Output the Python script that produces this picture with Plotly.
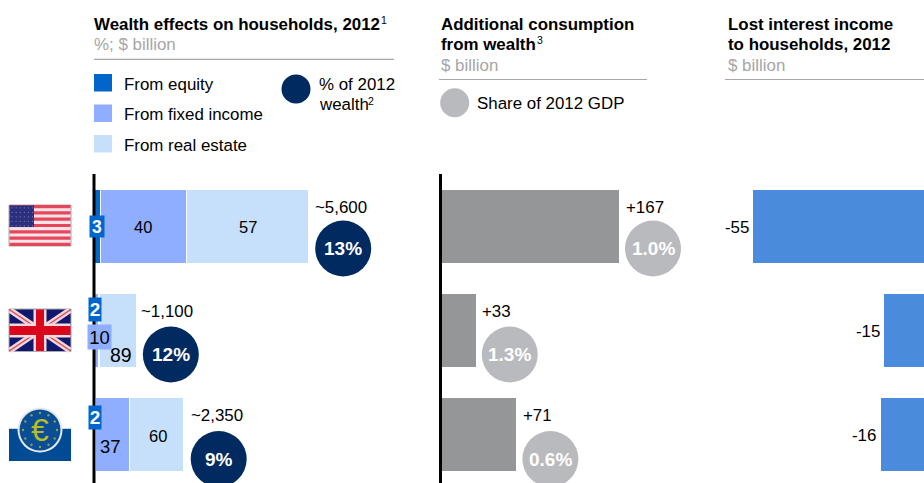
import math
import plotly.graph_objects as go

W, H = 924, 483

# ---- data ----
countries = ["United States", "United Kingdom", "Eurozone"]
equity_pct = [3, 2, 2]
fixed_pct = [40, 10, 37]
estate_pct = [57, 89, 60]
wealth_total = [5600, 1100, 2350]
wealth_labels = ["~5,600", "~1,100", "~2,350"]
wealth_share = ["13%", "12%", "9%"]
consumption = [167, 33, 71]
consumption_labels = ["+167", "+33", "+71"]
gdp_share = ["1.0%", "1.3%", "0.6%"]
lost_interest = [-55, -15, -16]
lost_labels = ["-55", "-15", "-16"]

# ---- palette ----
C_EQUITY = "#0066CC"
C_FIXED = "#8FAEFF"
C_ESTATE = "#C6DFFB"
C_NAVY = "#002A60"
C_GREY_BAR = "#959698"
C_GREY_DOT = "#B9BABD"
C_BLUE = "#4A8BDC"
C_SUB = "#A6A6A6"
C_RULE = "#A8A8A8"
FONT = "Liberation Sans, Arial, sans-serif"
FS = 16.9

# ---- panel geometry, in pixels of the page ----
PX_PER_ROW = 104.0
ROW0 = 226.5
BAR_H = 73.5
GUTTER = 6.0  # room left of each zero line so the thick line is not clipped
P1_ZERO, P1_RIGHT = 94.0, 400.0
P1_K = 214.5 / 5600
P2_ZERO, P2_RIGHT = 440.5, 720.0
P2_K = 178.5 / 167
P3_LEFT, P3_ZERO = 725.0, 933.0
P3_K = 3.275

rows = list(range(len(countries)))


def paper_x(px):
    return px / W


def paper_y(py):
    return 1 - py / H


fig = go.Figure()

# stacked wealth bars: each share applies to that country's total
eq_val = [t * p / 100 for t, p in zip(wealth_total, equity_pct)]
fx_val = [t * p / 100 for t, p in zip(wealth_total, fixed_pct)]
re_val = [t * p / 100 for t, p in zip(wealth_total, estate_pct)]
for name, vals, col in [("From equity", eq_val, C_EQUITY),
                        ("From fixed income", fx_val, C_FIXED),
                        ("From real estate", re_val, C_ESTATE)]:
    fig.add_trace(go.Bar(y=rows, x=vals, name=name, orientation="h", xaxis="x", yaxis="y",
                         marker=dict(color=col, line=dict(color="white", width=1.2)),
                         width=BAR_H / PX_PER_ROW, showlegend=False, hoverinfo="skip"))

fig.add_trace(go.Bar(y=rows, x=consumption, orientation="h", xaxis="x2", yaxis="y",
                     marker=dict(color=C_GREY_BAR, line=dict(width=0)),
                     width=BAR_H / PX_PER_ROW, showlegend=False, hoverinfo="skip"))
fig.add_trace(go.Bar(y=rows, x=lost_interest, orientation="h", xaxis="x3", yaxis="y",
                     marker=dict(color=C_BLUE, line=dict(width=0)),
                     width=BAR_H / PX_PER_ROW, showlegend=False, hoverinfo="skip"))

# share bubbles sit just past the end of each bar
BUBBLE_DY = [22, 24, 24.5]
P1_BUBBLE_X = [t + 34.7 / P1_K for t in wealth_total]
P2_BUBBLE_X = [v + 34.0 / P2_K for v in consumption]
BUBBLE_Y = [r + d / PX_PER_ROW for r, d in zip(rows, BUBBLE_DY)]
fig.add_trace(go.Scatter(x=P1_BUBBLE_X, y=BUBBLE_Y, mode="markers", xaxis="x", yaxis="y",
                         cliponaxis=False, marker=dict(size=56, color=C_NAVY, line=dict(width=0)),
                         showlegend=False, hoverinfo="skip"))
fig.add_trace(go.Scatter(x=P2_BUBBLE_X, y=BUBBLE_Y, mode="markers", xaxis="x2", yaxis="y",
                         cliponaxis=False, marker=dict(size=56, color=C_GREY_DOT, line=dict(width=0)),
                         showlegend=False, hoverinfo="skip"))

ann = []
shapes = []


def note(px, py, text, size=FS, color="black", anchor="left"):
    ann.append(dict(xref="paper", yref="paper", x=paper_x(px), y=paper_y(py), text=text,
                    showarrow=False, xanchor=anchor, yanchor="middle", borderpad=0,
                    font=dict(family=FONT, size=size, color=color), align="left"))


def data_note(axis, x, row, text, dx=0, dy=0, size=FS, color="black", anchor="center",
              bg=None, box=None):
    a = dict(xref=axis, yref="y", x=x, y=row, text=text, showarrow=False,
             xanchor=anchor, yanchor="middle", xshift=dx, yshift=-dy, borderpad=0,
             font=dict(family=FONT, size=size, color=color), align="center", valign="middle")
    if bg:
        a["bgcolor"] = bg
    if box:
        a["width"], a["height"] = box
    ann.append(a)


def rect(x0, y0, x1, y1, fill, line=None, lw=0):
    shapes.append(dict(type="rect", xref="paper", yref="paper",
                       x0=paper_x(x0), x1=paper_x(x1), y0=paper_y(y0), y1=paper_y(y1),
                       fillcolor=fill, line=dict(color=line or fill, width=lw), layer="above"))


def circle(cx, cy, r, fill, line=None, lw=0):
    shapes.append(dict(type="circle", xref="paper", yref="paper",
                       x0=paper_x(cx - r), x1=paper_x(cx + r),
                       y0=paper_y(cy + r), y1=paper_y(cy - r),
                       fillcolor=fill, line=dict(color=line or fill, width=lw), layer="above"))


def seg(x0, y0, x1, y1, color, lw):
    shapes.append(dict(type="line", xref="paper", yref="paper",
                       x0=paper_x(x0), x1=paper_x(x1), y0=paper_y(y0), y1=paper_y(y1),
                       line=dict(color=color, width=lw), layer="above"))


# ---- panel headers ----
note(92.8, 24.4, "<b>Wealth effects on households, 2012</b>")
note(379.5, 20, "1", size=10.5)
note(92.8, 44, "%; $ billion", color=C_SUB)
seg(94, 59.3, 394, 59.3, C_RULE, 1.2)
note(440, 24.4, "<b>Additional consumption</b>")
note(440, 44.4, "<b>from wealth</b>")
note(535.5, 40, "3", size=10.5)
note(440, 65, "$ billion", color=C_SUB)
seg(439, 79.5, 647, 79.5, C_RULE, 1.2)
note(726.8, 24.4, "<b>Lost interest income</b>")
note(726.8, 44.4, "<b>to households, 2012</b>")
note(726.8, 65, "$ billion", color=C_SUB)
seg(725, 79.5, 924, 79.5, C_RULE, 1.2)

# ---- legends ----
rect(94, 74, 112, 91.5, C_EQUITY)
rect(94, 104.5, 112, 122, C_FIXED)
rect(94, 135, 112, 152.5, C_ESTATE)
note(122.8, 84.5, "From equity")
note(122.8, 114.8, "From fixed income")
note(122.8, 145.4, "From real estate")
circle(296, 89, 14.5, C_NAVY)
note(317.8, 84.5, "% of 2012")
note(317.8, 104.5, "wealth")
note(367, 101, "2", size=10.5)
circle(454.7, 102.7, 14.5, C_GREY_DOT)
note(476, 103, "Share of 2012 GDP")

# ---- value labels, nudged where a segment is too thin to hold its text ----
FIXED_NUDGE = [(0, 0), (2.5, 6), (-1.7, 11.5)]
FIXED_SIZE = [16.5, 18.5, 18.5]
ESTATE_NUDGE = [(0.8, 0.5), (3, 24), (1.7, 1.5)]
ESTATE_SIZE = [16.5, 19.5, 16.5]
EQUITY_NUDGE = [(0, 0), (1, -21.5), (0, -17)]
EQUITY_BOX = [(14, 21), (12, 23), (12, 23)]
EQUITY_SIZE = [17.5, 19, 19]
TOTAL_DX = [5.5, 3.5, 6]
GAIN_DX = [5.5, 5, 5.5]
LOSS_DX = [-3, -3, -3.5]
for i in rows:
    eq_mid = eq_val[i] / 2
    fx_mid = eq_val[i] + fx_val[i] / 2
    re_mid = eq_val[i] + fx_val[i] + re_val[i] / 2
    data_note("x", fx_mid, i, str(fixed_pct[i]), *FIXED_NUDGE[i], size=FIXED_SIZE[i],
              bg=C_FIXED if i == 1 else None, box=(23, 24) if i == 1 else None)
    data_note("x", re_mid, i, str(estate_pct[i]), *ESTATE_NUDGE[i], size=ESTATE_SIZE[i])
    data_note("x", eq_mid, i, f"<b>{equity_pct[i]}</b>", *EQUITY_NUDGE[i], size=EQUITY_SIZE[i],
              color="white", bg=C_EQUITY, box=EQUITY_BOX[i])
    data_note("x", wealth_total[i], i, wealth_labels[i], dx=TOTAL_DX[i], dy=-19.5, anchor="left")
    data_note("x2", consumption[i], i, consumption_labels[i], dx=GAIN_DX[i], dy=-19.5, anchor="left")
    data_note("x3", lost_interest[i], i, lost_labels[i], dx=LOSS_DX[i], dy=1, anchor="right")
    data_note("x", P1_BUBBLE_X[i], BUBBLE_Y[i], f"<b>{wealth_share[i]}</b>", size=19, color="white")
    data_note("x2", P2_BUBBLE_X[i], BUBBLE_Y[i], f"<b>{gdp_share[i]}</b>", size=19, color="white")

# ---- zero lines ----
for axis in ("x", "x2"):
    shapes.append(dict(type="line", xref=axis, yref="paper", x0=0, x1=0,
                       y0=0, y1=paper_y(174), line=dict(color="black", width=3), layer="above"))

# ---- United States flag ----
US_X0, US_X1, US_Y0, US_Y1 = 9, 71, 205, 246
rect(US_X0, US_Y0, US_X1, US_Y1, "#FBE3E6", line="#AAAAAA", lw=1)
stripe = (US_Y1 - US_Y0) / 13
for k in range(0, 13, 2):
    rect(US_X0 + 0.5, US_Y0 + k * stripe, US_X1 - 0.5, US_Y0 + (k + 1) * stripe, "#E4475C")
rect(US_X0 + 0.5, US_Y0 + 0.5, 34, US_Y0 + 7 * stripe, "#2C2F7E")
for a in range(5):
    for b in range(6):
        circle(US_X0 + 3 + b * 4.1, US_Y0 + 2.8 + a * 4.5, 0.6, "#8486B8")

# ---- United Kingdom flag ----
UK_X0, UK_X1, UK_Y0, UK_Y1 = 9, 71, 309, 351.5
rect(UK_X0, UK_Y0, UK_X1, UK_Y1, "#10186E", line="#AAAAAA", lw=1)
seg(UK_X0 + 1, UK_Y0 + 1, UK_X1 - 1, UK_Y1 - 1, "#F2D6DA", 6)
seg(UK_X0 + 1, UK_Y1 - 1, UK_X1 - 1, UK_Y0 + 1, "#F2D6DA", 6)
seg(UK_X0 + 1, UK_Y0 + 1, UK_X1 - 1, UK_Y1 - 1, "#D84A58", 1.5)
seg(UK_X0 + 1, UK_Y1 - 1, UK_X1 - 1, UK_Y0 + 1, "#D84A58", 1.5)
rect(UK_X0 + 0.5, 323.5, UK_X1 - 0.5, 337.5, "#F6D9DC")
rect(33.5, UK_Y0 + 0.5, 46.5, UK_Y1 - 0.5, "#F6D9DC")
rect(UK_X0 + 0.5, 326, UK_X1 - 0.5, 335, "#D9061C")
rect(36, UK_Y0 + 0.5, 44, UK_Y1 - 0.5, "#D9061C")

# ---- euro emblem ----
rect(9, 429, 71, 461, "#004B93")
rect(9, 428, 71, 429, "#C8D4E4")
circle(40, 430, 22.5, "#E4E8F0")
circle(40, 430, 20.5, "#0B4E96")
for k in range(12):
    ang = 2 * math.pi * k / 12
    circle(40 + 17 * math.cos(ang), 430 + 17 * math.sin(ang), 1.2, "#7FA25A")
note(40, 430, "€", size=32, color="#B4BE24", anchor="center")

fig.update_layout(
    width=W, height=H, autosize=False,
    margin=dict(l=0, r=0, t=0, b=0, pad=0),
    paper_bgcolor="white", plot_bgcolor="white",
    barmode="stack", showlegend=False,
    annotations=ann, shapes=shapes,
    font=dict(family=FONT, color="black"),
    yaxis=dict(domain=[0, 1], range=[(H - ROW0) / PX_PER_ROW, -ROW0 / PX_PER_ROW],
               visible=False, fixedrange=True),
    xaxis=dict(domain=[paper_x(P1_ZERO - GUTTER), paper_x(P1_RIGHT)],
               range=[-GUTTER / P1_K, (P1_RIGHT - P1_ZERO) / P1_K], anchor="y",
               visible=False, fixedrange=True),
    xaxis2=dict(domain=[paper_x(P2_ZERO - GUTTER), paper_x(P2_RIGHT)],
                range=[-GUTTER / P2_K, (P2_RIGHT - P2_ZERO) / P2_K], anchor="y",
                visible=False, fixedrange=True),
    xaxis3=dict(domain=[paper_x(P3_LEFT), 1],
                range=[(P3_LEFT - P3_ZERO) / P3_K, (W - P3_ZERO) / P3_K], anchor="y",
                visible=False, fixedrange=True),
)

fig.write_html("out.html", config=dict(displayModeBar=False))
